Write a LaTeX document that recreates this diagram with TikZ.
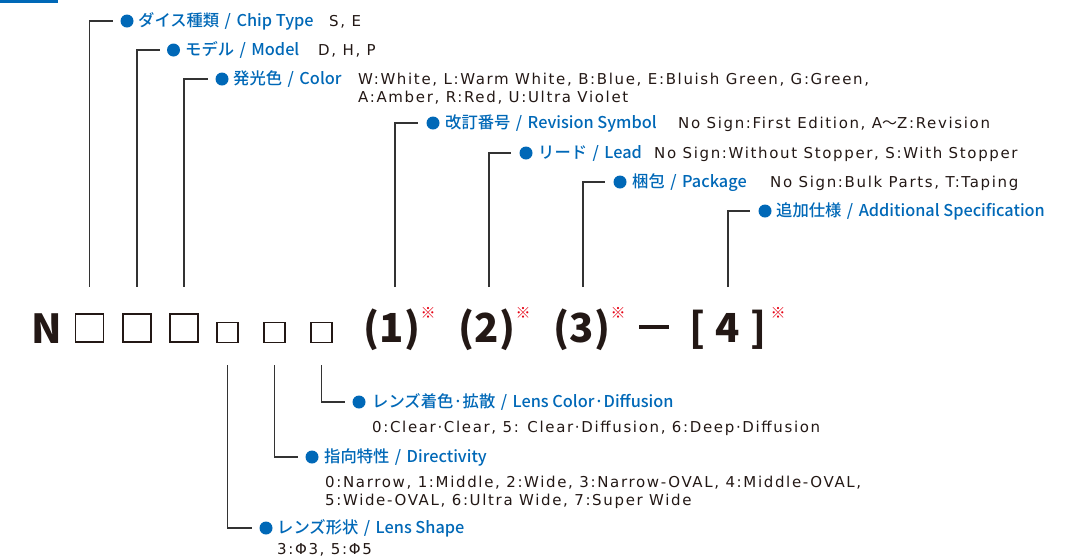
\documentclass[tikz,border=0pt]{standalone}
\usepackage{fontspec}
\newfontfamily\jp{Noto Sans CJK JP}
\newfontfamily\jpm{Noto Sans CJK JP}[UprightFont={* Medium}]
\newfontfamily\dscf{DejaVu Sans}[LetterSpace=11]
\newcommand\slsep{\hspace{5.5pt}/\hspace{5.5pt}}
\definecolor{bl}{HTML}{0068B7}
\definecolor{dk}{HTML}{231815}
\definecolor{rd}{HTML}{E60012}
\definecolor{ln}{HTML}{333333}
\begin{document}
\begin{tikzpicture}[x=1pt,y=-1pt,
 conn/.style={draw=ln, line width=1.3pt},
 dot/.style={circle, fill=bl, inner sep=0pt, minimum size=13pt},
 lab/.style={font=\jpm\fontsize{16.3}{18}\selectfont, text=bl, anchor=base west, inner sep=0pt},
 dsc/.style={font=\dscf\fontsize{15}{18}\selectfont, text=dk, anchor=base west, inner sep=0pt, align=left},
 bigsq/.style={draw=dk, line width=1.8pt, minimum width=28pt, minimum height=28.5pt, inner sep=0pt},
 smsq/.style={draw=dk, line width=1.8pt, minimum width=21.5pt, minimum height=20pt, inner sep=0pt},
 code/.style={font=\jp\bfseries\fontsize{40}{40}\selectfont, text=dk, anchor=base, inner sep=0pt},
 note/.style={font=\jp\fontsize{15}{15}\selectfont, text=rd, inner sep=0pt}
]
\path[use as bounding box] (0,0) rectangle (1084,558);
\fill[bl] (0,0) rectangle (58,2.5);

% code row
\node[code] (n) at (47,343) {N};
\node[bigsq] (s1) at (89.5,328) {};
\node[bigsq] (s2) at (137,328) {};
\node[bigsq] (s3) at (184,328) {};
\node[smsq] (s4) at (227.5,332.5) {};
\node[smsq] (s5) at (274.5,332.5) {};
\node[smsq] (s6) at (321.5,332.5) {};
\node[code] (c1) at (392,342) {(1)};
\node[code] (c2) at (487,342) {(2)};
\node[code] (c3) at (582,342) {(3)};
\node[fill=dk, inner sep=0pt, minimum width=30pt, minimum height=3.5pt] (dash) at (654,327) {};
\node[code] (c4) at (728,342) {[\hspace{10pt}4\hspace{10pt}]};
\node[note] (r1) at (428,313) {※};
\node[note] (r2) at (523,313) {※};
\node[note] (r3) at (618,313) {※};
\node[note] (r4) at (778,313) {※};

\coordinate (t4) at (395,287);
\coordinate (t5) at (489,287);
\coordinate (t6) at (583,287);
\coordinate (t7) at (728,287);

% top labels
\node[dot] (d1) at (127,21) {};
\node[lab] (l1) at (138,26.5) {ダイス種類\slsep Chip Type};
\node[dsc] (e1) at (329,26.5) {S, E};

\node[dot] (d2) at (173.5,50) {};
\node[lab] (l2) at (185,55.5) {モデル\slsep Model};
\node[dsc] (e2) at (318,55.5) {D, H, P};

\node[dot] (d3) at (222,79) {};
\node[lab] (l3) at (233,84.5) {発光色\slsep Color};
\node[dsc] (e3) at (358,102.5) {W:White, L:Warm White, B:Blue, E:Bluish Green, G:Green,\\A:Amber, R:Red, U:Ultra Violet};

\node[dot] (d4) at (433,123) {};
\node[lab] (l4) at (445,128.5) {改訂番号\slsep Revision Symbol};
\node[dsc] (e4) at (678,128.5) {No Sign:First Edition, A{\jp ～}Z:Revision};

\node[dot] (d5) at (526,153) {};
\node[lab] (l5) at (538,158.5) {リード\slsep Lead};
\node[dsc] (e5) at (654,158.5) {No Sign:Without Stopper, S:With Stopper};

\node[dot] (d6) at (620,182) {};
\node[lab] (l6) at (632,187.5) {梱包\slsep Package};
\node[dsc] (e6) at (770,187.5) {No Sign:Bulk Parts, T:Taping};

\node[dot] (d7) at (765,211) {};
\node[lab] (l7) at (776,216.5) {追加仕様\slsep Additional Specification};

% bottom labels
\node[dot] (d8) at (359,402) {};
\node[lab] (l8) at (372,407.5) {レンズ着色·拡散\slsep Lens Color·Diffusion};
\node[dsc] (e8) at (372,432.5) {0:Clear·Clear, 5: Clear·Diffusion, 6:Deep·Diffusion};

\node[dot] (d9) at (312,457) {};
\node[lab] (l9) at (324,462.5) {指向特性\slsep Directivity};
\node[dsc] (e9) at (325,505.5) {0:Narrow, 1:Middle, 2:Wide, 3:Narrow-OVAL, 4:Middle-OVAL,\\5:Wide-OVAL, 6:Ultra Wide, 7:Super Wide};

\node[dot] (d10) at (266,528) {};
\node[lab] (l10) at (277,533.5) {レンズ形状\slsep Lens Shape};
\node[dsc] (e10) at (277,554.5) {3:Φ3, 5:Φ5};

% connectors
\draw[conn] ([yshift=26pt]s1.north) |- ([xshift=-7pt]d1.west);
\draw[conn] ([yshift=26pt]s2.north) |- ([xshift=-7pt]d2.west);
\draw[conn] ([yshift=26pt]s3.north) |- ([xshift=-7pt]d3.west);
\draw[conn] (t4) |- ([xshift=-8pt]d4.west);
\draw[conn] (t5) |- ([xshift=-8pt]d5.west);
\draw[conn] (t6) |- ([xshift=-8pt]d6.west);
\draw[conn] (t7) |- ([xshift=-8pt]d7.west);
\draw[conn] ([yshift=-22pt]s6.south) |- ([xshift=-7pt]d8.west);
\draw[conn] ([yshift=-22pt]s5.south) |- ([xshift=-7pt]d9.west);
\draw[conn] ([yshift=-22pt]s4.south) |- ([xshift=-7pt]d10.west);
\end{tikzpicture}
\end{document}
